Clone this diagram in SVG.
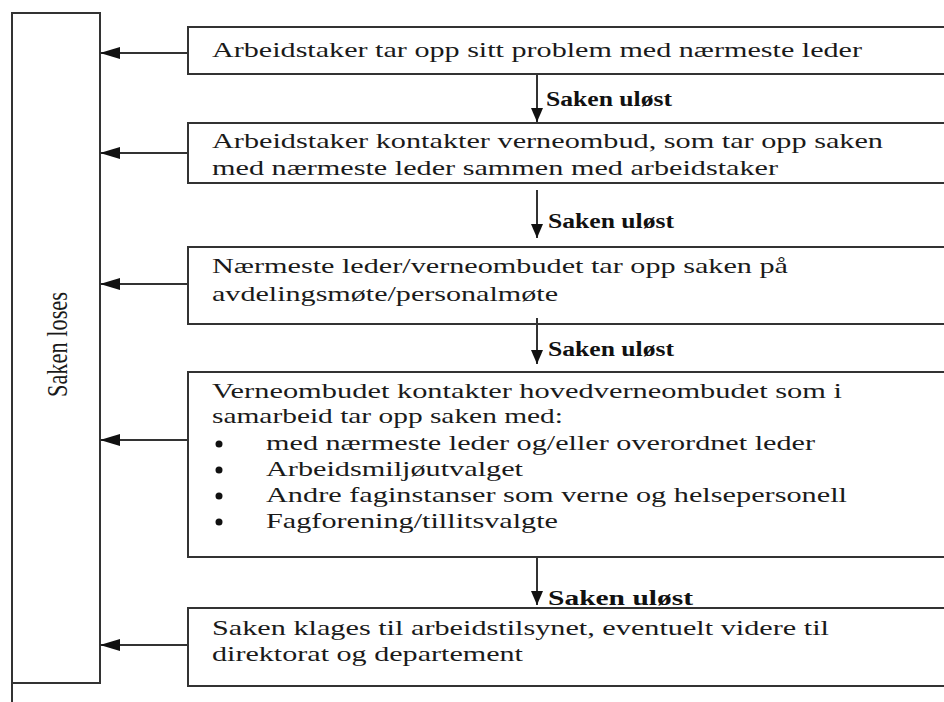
<svg xmlns="http://www.w3.org/2000/svg" width="944" height="702" viewBox="0 0 944 702">
<defs>
<style>
.box{fill:#fff;stroke:#333;stroke-width:2}
.ln{stroke:#333;stroke-width:2;fill:none}
.t{font-family:"Liberation Serif","Times New Roman",serif;font-size:22px;fill:#1a1a1a}
.lbl{font-family:"Liberation Serif","Times New Roman",serif;font-size:20px;font-weight:bold;fill:#111}
.side{font-family:"Liberation Serif","Times New Roman",serif;font-size:30px;fill:#1a1a1a}
</style>
<marker id="ah" viewBox="0 0 20 12" refX="20" refY="6" markerWidth="20" markerHeight="12" markerUnits="userSpaceOnUse" orient="auto">
<path d="M0,0 L20,6 L0,12 Z" fill="#111"/>
</marker>
<marker id="ad" viewBox="0 0 14 12" refX="14" refY="6" markerWidth="14" markerHeight="12" markerUnits="userSpaceOnUse" orient="auto">
<path d="M0,0 L14,6 L0,12 Z" fill="#111"/>
</marker>
</defs>
<rect width="944" height="702" fill="#fff"/>

<g id="side">
<rect class="box" x="12" y="13" width="88" height="670"/>
<line class="ln" x1="12" y1="683" x2="12" y2="702"/>
<text class="side" transform="translate(67,397) rotate(-90)" textLength="105" lengthAdjust="spacingAndGlyphs">Saken loses</text>
</g>

<g id="n1">
<rect class="box" x="188" y="27" width="780" height="47"/>
<text class="t" x="212" y="57" textLength="650" lengthAdjust="spacingAndGlyphs">Arbeidstaker tar opp sitt problem med nærmeste leder</text>
</g>
<g id="n2">
<rect class="box" x="188" y="123" width="780" height="60"/>
<text class="t" x="212" y="148" textLength="671" lengthAdjust="spacingAndGlyphs">Arbeidstaker kontakter verneombud, som tar opp saken</text>
<text class="t" x="212" y="175" textLength="566" lengthAdjust="spacingAndGlyphs">med nærmeste leder sammen med arbeidstaker</text>
</g>
<g id="n3">
<rect class="box" x="188" y="247" width="780" height="77"/>
<text class="t" x="212" y="273" textLength="576" lengthAdjust="spacingAndGlyphs">Nærmeste leder/verneombudet tar opp saken på</text>
<text class="t" x="212" y="301" textLength="346" lengthAdjust="spacingAndGlyphs">avdelingsmøte/personalmøte</text>
</g>
<g id="n4">
<rect class="box" x="188" y="372" width="780" height="185"/>
<text class="t" x="212" y="398" textLength="630" lengthAdjust="spacingAndGlyphs">Verneombudet kontakter hovedverneombudet som i</text>
<text class="t" x="212" y="423" textLength="351" lengthAdjust="spacingAndGlyphs">samarbeid tar opp saken med:</text>
<circle cx="219" cy="444" r="3.5" fill="#111"/>
<circle cx="219" cy="470" r="3.5" fill="#111"/>
<circle cx="219" cy="496" r="3.5" fill="#111"/>
<circle cx="219" cy="522" r="3.5" fill="#111"/>
<text class="t" x="266" y="450" textLength="549" lengthAdjust="spacingAndGlyphs">med nærmeste leder og/eller overordnet leder</text>
<text class="t" x="266" y="476" textLength="257" lengthAdjust="spacingAndGlyphs">Arbeidsmiljøutvalget</text>
<text class="t" x="266" y="502" textLength="581" lengthAdjust="spacingAndGlyphs">Andre faginstanser som verne og helsepersonell</text>
<text class="t" x="266" y="528" textLength="292" lengthAdjust="spacingAndGlyphs">Fagforening/tillitsvalgte</text>
</g>
<g id="n5">
<rect class="box" x="188" y="608" width="780" height="78"/>
<text class="t" x="212" y="635" textLength="617" lengthAdjust="spacingAndGlyphs">Saken klages til arbeidstilsynet, eventuelt videre til</text>
<text class="t" x="212" y="661" textLength="311" lengthAdjust="spacingAndGlyphs">direktorat og departement</text>
</g>

<g id="connectors">
<line class="ln" x1="188" y1="53" x2="100" y2="53" marker-end="url(#ah)"/>
<line class="ln" x1="188" y1="153" x2="100" y2="153" marker-end="url(#ah)"/>
<line class="ln" x1="188" y1="284" x2="100" y2="284" marker-end="url(#ah)"/>
<line class="ln" x1="188" y1="440" x2="100" y2="440" marker-end="url(#ah)"/>
<line class="ln" x1="188" y1="645" x2="100" y2="645" marker-end="url(#ah)"/>
<line class="ln" x1="537" y1="74" x2="537" y2="122" marker-end="url(#ad)"/>
<line class="ln" x1="537" y1="190" x2="537" y2="238" marker-end="url(#ad)"/>
<line class="ln" x1="537" y1="318" x2="537" y2="364" marker-end="url(#ad)"/>
<line class="ln" x1="537" y1="557" x2="537" y2="605" marker-end="url(#ad)"/>
<text class="lbl" x="546" y="106" textLength="126" lengthAdjust="spacingAndGlyphs">Saken uløst</text>
<text class="lbl" x="548" y="228" textLength="126" lengthAdjust="spacingAndGlyphs">Saken uløst</text>
<text class="lbl" x="548" y="356" textLength="126" lengthAdjust="spacingAndGlyphs">Saken uløst</text>
<text class="lbl" x="548" y="605" textLength="145" lengthAdjust="spacingAndGlyphs">Saken uløst</text>
</g>
</svg>
